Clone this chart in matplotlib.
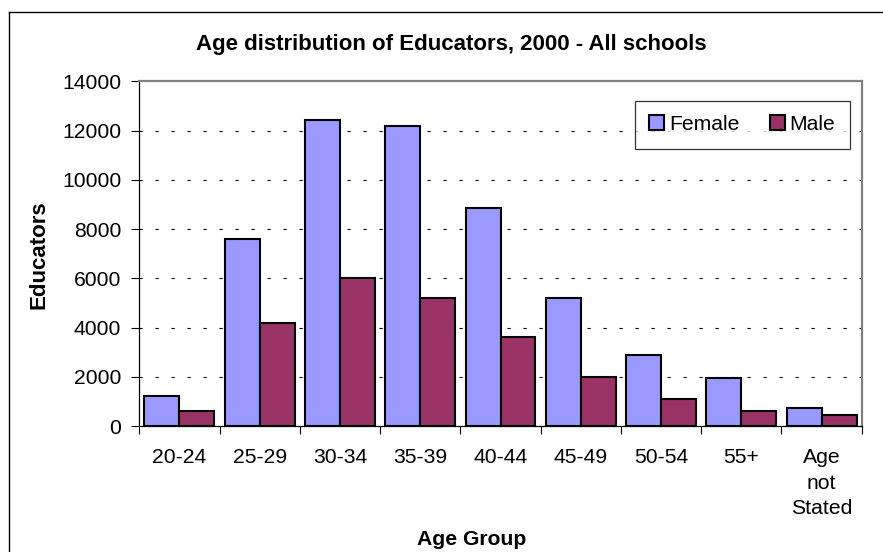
import matplotlib
matplotlib.use("Agg")
import matplotlib.pyplot as plt
import numpy as np
from matplotlib.lines import Line2D

categories = ["20-24", "25-29", "30-34", "35-39", "40-44", "45-49", "50-54", "55+", "Age\nnot\nStated"]
female = [1210, 7600, 12430, 12200, 8850, 5200, 2870, 1940, 730]
male = [600, 4200, 6000, 5180, 3600, 1980, 1085, 625, 435]
yticks = [0, 2000, 4000, 6000, 8000, 10000, 12000, 14000]

plt.rcParams['font.family'] = ['Liberation Sans', 'DejaVu Sans']

W, H = 883, 552
FS = 15.2
fig = plt.figure(figsize=(W / 100, H / 100), dpi=100)
ax = fig.add_axes([139.3 / W, 1 - 426 / H, (861.7 - 139.3) / W, (426 - 81.3) / H])

x = np.arange(len(categories))
bw = 0.436
ax.bar(x - bw / 2, female, bw, color="#9999FF", edgecolor="black", linewidth=1.5, label="Female", zorder=3)
ax.bar(x + bw / 2, male, bw, color="#993366", edgecolor="black", linewidth=1.5, label="Male", zorder=3)

ax.set_xlim(-0.5, len(categories) - 0.5)
ax.set_ylim(0, 14000)
ax.set_yticks(yticks)
ax.set_yticklabels([str(v) for v in yticks])
ax.set_xticks(x)
ax.set_xticklabels(categories)
ax.set_xticks(np.arange(len(categories) + 1) - 0.5, minor=True)
ax.tick_params(axis='x', which='major', length=0, pad=16, labelsize=FS)
ax.tick_params(axis='x', which='minor', length=6, width=0.8, direction='out')
ax.tick_params(axis='y', length=6, width=0.8, pad=7, labelsize=FS)
for lab in ax.get_xticklabels():
    lab.set_linespacing(1.42)
    lab.set_verticalalignment('top')

for v in yticks[1:-1]:
    ax.axhline(v, color="black", linewidth=0.8, linestyle=(0, (2.9, 11.5)), zorder=1)

for s in ['top', 'right']:
    ax.spines[s].set_color("#808080")
    ax.spines[s].set_linewidth(1.6)
for s in ['left', 'bottom']:
    ax.spines[s].set_color("black")
    ax.spines[s].set_linewidth(0.9)
ax.spines['bottom'].set_zorder(4)

fig.text(39.5 / W, 1 - 255 / H, "Educators", rotation=90, ha='center', va='center',
         fontsize=16, fontweight='bold')
fig.text(451 / W, 1 - 50 / H, "Age distribution of Educators, 2000 - All schools",
         ha='center', va='baseline', fontsize=16, fontweight='bold')
fig.text(472 / W, 1 - 545 / H, "Age Group", ha='center', va='baseline', fontsize=15.2, fontweight='bold')

leg = ax.legend(loc='upper left', bbox_to_anchor=(0.686, 0.943), ncol=2,
                fontsize=FS, frameon=True, fancybox=False, handlelength=0.71, handleheight=0.71,
                handletextpad=0.24, columnspacing=1.42, borderaxespad=0, borderpad=0.68)
leg.get_frame().set_edgecolor("black")
leg.get_frame().set_linewidth(0.9)
for p in leg.get_patches():
    p.set_linewidth(1.5)

fig.add_artist(Line2D([9 / W, 9 / W], [0, 1 - 12 / H], transform=fig.transFigure, color="black", linewidth=1.0))
fig.add_artist(Line2D([9 / W, 1], [1 - 12 / H, 1 - 12 / H], transform=fig.transFigure, color="black", linewidth=1.0))

fig.savefig("out.png", dpi=100)
